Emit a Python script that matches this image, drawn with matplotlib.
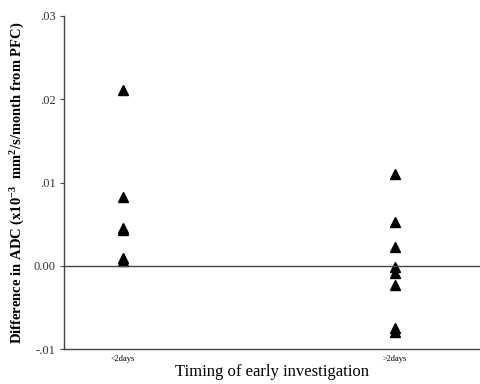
import numpy as np
from matplotlib import pyplot as plt

# Daten
groups = ["<2days", ">2days"]
early = [0.0211, 0.0083, 0.0045, 0.0043, 0.0009, 0.0006]
late = [0.0110, 0.0052, 0.0023, -0.0001, -0.0009, -0.0023, -0.0075, -0.0079]
y_ticks = [-0.01, 0.0, 0.01, 0.02, 0.03]
y_labels = ["-.01", "0.00", ".01", ".02", ".03"]

plt.rcParams['font.family'] = ['Liberation Serif', 'DejaVu Serif']
plt.rcParams['mathtext.fontset'] = 'custom'
plt.rcParams['mathtext.rm'] = 'Liberation Serif:bold'
plt.rcParams['mathtext.it'] = 'Liberation Serif:bold'
plt.rcParams['mathtext.bf'] = 'Liberation Serif:bold'

fig = plt.figure(figsize=(4.81, 3.84), dpi=100)
ax = fig.add_axes([64 / 481, 35 / 384, 417 / 481, 333 / 384])

# Punkte
ax.plot(np.full(len(early), 1), early, linestyle='', marker='^', color='black', markersize=7.5)
ax.plot(np.full(len(late), 2), late, linestyle='', marker='^', color='black', markersize=7.5)
ax.axhline(0, color='#444444', linewidth=1)

# Achsen
ax.set_xlim(0.783, 2.316)
ax.set_ylim(-0.01, 0.03)
ax.set_yticks(y_ticks)
ax.set_yticklabels(y_labels, fontsize=9, color='#333333')
ax.set_xticks([1, 2])
ax.set_xticklabels(groups, fontsize=6)
ax.tick_params(axis='x', length=0, pad=4)
ax.tick_params(axis='y', length=3, width=0.8, color='#444444', pad=3)
ax.spines['top'].set_visible(False)
ax.spines['right'].set_visible(False)
for s in ['left', 'bottom']:
    ax.spines[s].set_color('#444444')
    ax.spines[s].set_linewidth(1)

# Labels
ax.set_xlabel("Timing of early investigation", fontsize=12, labelpad=1)
ax.set_ylabel("Difference in ADC (x10$\\mathregular{^{-3}}$  mm$\\mathregular{^{2}}$/s/month from PFC)",
              fontsize=10.5, fontweight='bold', labelpad=5)

fig.savefig("out.png", dpi=100)
